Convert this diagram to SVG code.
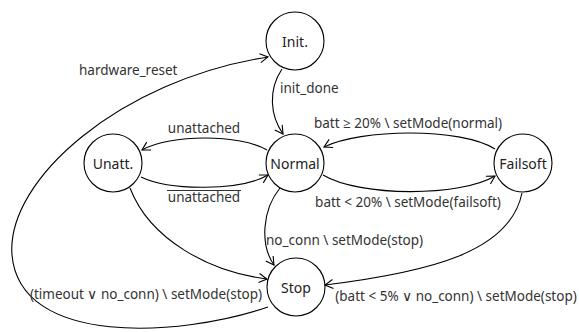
<svg xmlns="http://www.w3.org/2000/svg" width="579" height="332" viewBox="0 0 579 332">
<style>
.node circle{fill:#fff;stroke:#000;stroke-width:1.1}
.node text{font-family:"Noto Sans","Open Sans",sans-serif;font-size:14px;fill:#222;text-anchor:middle;dominant-baseline:central}
.edges path{fill:none;stroke:#000;stroke-width:1.1;marker-end:url(#arr)}
.lbl{font-family:"Noto Sans","Open Sans",sans-serif;font-size:13.5px;fill:#333}
.ovl{stroke:#333;stroke-width:1}
</style>
<defs>
<marker id="arr" markerWidth="12" markerHeight="12" refX="9" refY="5" orient="auto" markerUnits="userSpaceOnUse">
<polyline points="1,0.5 9,5 1,9.5" fill="none" stroke="#000" stroke-width="1.1"/>
</marker>
</defs>
<g class="edges">
<path d="M268,307 C180,337 20,347 12,255 C6,180 120,80 268,57"/>
<path d="M282,69 C268,90 270,115 283,134"/>
<path d="M267,150 C240,134 170,134 142,150"/>
<path d="M141,177 C170,191 240,191 268,175"/>
<path d="M130,188 C150,240 210,272 267,279"/>
<path d="M280,188 C262,210 260,245 274,265"/>
<path d="M495,149 C460,127 360,129 324,147"/>
<path d="M323,175 C360,197 460,197 495,176"/>
<path d="M522,193 C510,252 430,272 325,285"/>
</g>
<g id="init" class="node"><circle cx="295" cy="41" r="29"/><text x="295" y="41">Init.</text></g>
<g id="normal" class="node"><circle cx="295" cy="163" r="29"/><text x="295" y="163">Normal</text></g>
<g id="unatt" class="node"><circle cx="113" cy="163" r="29"/><text x="113" y="163">Unatt.</text></g>
<g id="failsoft" class="node"><circle cx="523" cy="163" r="29"/><text x="523" y="163">Failsoft</text></g>
<g id="stop" class="node"><circle cx="296" cy="287" r="29"/><text x="296" y="287">Stop</text></g>
<g class="labels">
<text class="lbl" x="79" y="75">hardware_reset</text>
<text class="lbl" x="280" y="93">init_done</text>
<text class="lbl" x="204" y="133" text-anchor="middle">unattached</text>
<text class="lbl" x="204" y="202" text-anchor="middle">unattached</text>
<line class="ovl" x1="167" y1="190.5" x2="241" y2="190.5"/>
<text class="lbl" x="408" y="128" text-anchor="middle">batt ≥ 20% \ setMode(normal)</text>
<text class="lbl" x="408" y="207" text-anchor="middle">batt &lt; 20% \ setMode(failsoft)</text>
<text class="lbl" x="266" y="245">no_conn \ setMode(stop)</text>
<text class="lbl" x="146" y="299" text-anchor="middle">(timeout ∨ no_conn) \ setMode(stop)</text>
<text class="lbl" x="456" y="301" text-anchor="middle">(batt &lt; 5% ∨ no_conn) \ setMode(stop)</text>
</g>
</svg>
